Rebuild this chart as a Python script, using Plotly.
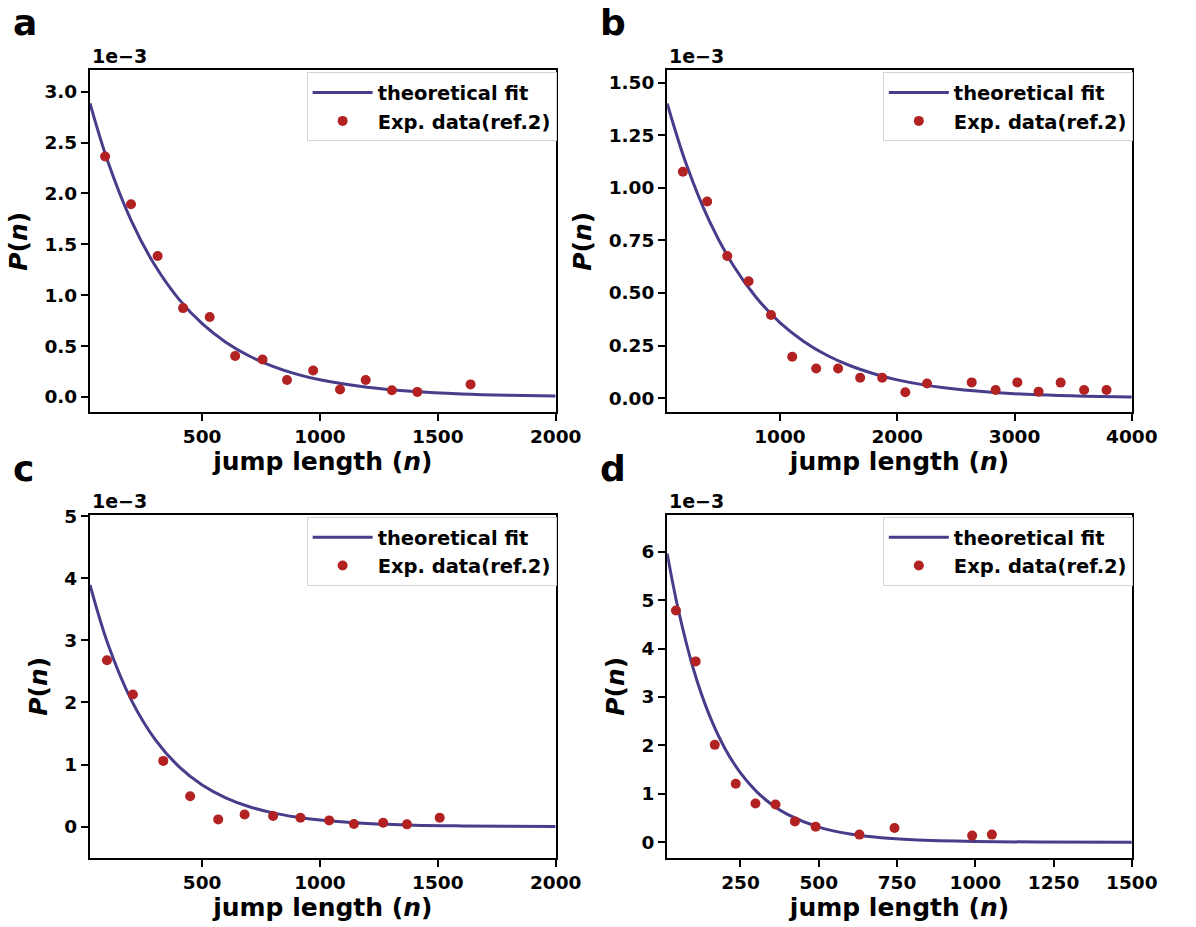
import plotly.graph_objects as go

# ---------------- data (P values in units of 1e-3) ----------------
# panel a
a_exp_n = [88, 198, 311, 419, 532, 640, 756, 860, 971, 1085, 1194, 1305, 1413, 1639]
a_exp_p = [2.364, 1.894, 1.385, 0.873, 0.785, 0.402, 0.367, 0.166, 0.260, 0.072, 0.166, 0.065, 0.049, 0.123]
a_fit_n = [24, 100, 200, 300, 400, 500, 600, 700, 800, 900, 1000, 1200, 1400, 1600, 1800, 2000]
a_fit_p = [2.886, 2.312, 1.728, 1.291, 0.964, 0.720, 0.538, 0.402, 0.300, 0.224, 0.168, 0.094, 0.052, 0.029, 0.016, 0.009]

# panel b
b_exp_n = [173, 380, 551, 733, 924, 1105, 1309, 1496, 1684, 1872, 2069, 2254, 2635, 2839, 3024, 3205, 3393, 3593, 3784]
b_exp_p = [1.076, 0.935, 0.676, 0.556, 0.395, 0.197, 0.141, 0.141, 0.097, 0.097, 0.028, 0.070, 0.075, 0.039, 0.075, 0.031, 0.074, 0.039, 0.039]
b_fit_n = [39, 200, 400, 600, 800, 1000, 1200, 1400, 1600, 1800, 2000, 2400, 2800, 3200, 3600, 4000]
b_fit_p = [1.401, 1.115, 0.840, 0.633, 0.477, 0.359, 0.271, 0.204, 0.154, 0.116, 0.087, 0.049, 0.028, 0.016, 0.009, 0.005]

# panel c
c_exp_n = [96, 206, 335, 449, 568, 680, 801, 917, 1039, 1144, 1268, 1369, 1508]
c_exp_p = [2.681, 2.128, 1.059, 0.489, 0.117, 0.197, 0.170, 0.144, 0.101, 0.043, 0.064, 0.037, 0.144]
c_fit_n = [24, 100, 200, 300, 400, 500, 600, 700, 800, 900, 1000, 1200, 1400, 1600, 1800, 2000]
c_fit_p = [3.894, 2.942, 2.034, 1.406, 0.972, 0.672, 0.465, 0.321, 0.222, 0.154, 0.106, 0.051, 0.024, 0.012, 0.006, 0.003]

# panel d
d_exp_n = [44, 107, 168, 235, 298, 362, 424, 490, 630, 742, 990, 1053]
d_exp_p = [4.786, 3.736, 2.011, 1.207, 0.798, 0.777, 0.430, 0.321, 0.157, 0.293, 0.136, 0.157]
d_fit_n = [16, 50, 100, 150, 200, 250, 300, 350, 400, 500, 600, 700, 800, 1000, 1200, 1500]
d_fit_p = [5.966, 4.849, 3.574, 2.635, 1.943, 1.432, 1.056, 0.778, 0.574, 0.312, 0.170, 0.092, 0.050, 0.015, 0.004, 0.001]

panel_letters = ["a", "b", "c", "d"]
fit_label = "theoretical fit"
exp_label = "Exp. data(ref.2)"
x_title = "jump length (<i>n</i>)"
y_title = "<i>P</i>(<i>n</i>)"
scale_label = "1e\u22123"

x_ranges = [[24, 2000], [39, 4000], [24, 2000], [16, 1500]]
y_ranges = [[-0.149, 3.21], [-0.066, 1.558], [-0.5, 5.02], [-0.32, 6.76]]
x_ticks = [[500, 1000, 1500, 2000], [1000, 2000, 3000, 4000], [500, 1000, 1500, 2000],
           [250, 500, 750, 1000, 1250, 1500]]
y_ticks = [[0, 0.5, 1.0, 1.5, 2.0, 2.5, 3.0], [0, 0.25, 0.5, 0.75, 1.0, 1.25, 1.5],
           [0, 1, 2, 3, 4, 5], [0, 1, 2, 3, 4, 5, 6]]
y_fmt = [".1f", ".2f", "d", "d"]

# ---------------- layout geometry ----------------
W, H = 1196, 927
x_doms = [[92 / W, 568 / W], [682 / W, 1157 / W], [92 / W, 568 / W], [682 / W, 1157 / W]]
y_doms = [[1 - 407 / H, 1 - 62 / H], [1 - 407 / H, 1 - 62 / H],
          [1 - 857 / H, 1 - 511 / H], [1 - 857 / H, 1 - 511 / H]]

LINE = "#483D8B"
DOT = "#B22222"
FONT = "DejaVu Sans"

fits = [(a_fit_n, a_fit_p), (b_fit_n, b_fit_p), (c_fit_n, c_fit_p), (d_fit_n, d_fit_p)]
exps = [(a_exp_n, a_exp_p), (b_exp_n, b_exp_p), (c_exp_n, c_exp_p), (d_exp_n, d_exp_p)]

fig = go.Figure()
layout = dict(
    width=W, height=H, margin=dict(l=0, r=0, t=0, b=0),
    paper_bgcolor="white", plot_bgcolor="white",
    font=dict(family=FONT, color="black", size=18, weight="bold"),
    annotations=[],
)

for i in range(4):
    sfx = "" if i == 0 else str(i + 1)
    leg = "legend" + sfx
    fig.add_trace(go.Scatter(
        x=fits[i][0], y=fits[i][1], mode="lines", name=fit_label,
        line=dict(color=LINE, width=3, shape="spline", smoothing=1.0),
        xaxis="x" + sfx, yaxis="y" + sfx, legend=leg, legendgroup="f" + str(i)))
    fig.add_trace(go.Scatter(
        x=exps[i][0], y=exps[i][1], mode="markers", name=exp_label,
        marker=dict(color=DOT, size=10),
        xaxis="x" + sfx, yaxis="y" + sfx, legend=leg, legendgroup="e" + str(i)))

    common = dict(showline=True, mirror=True, linecolor="black", linewidth=2.2,
                  ticks="outside", ticklen=7, tickwidth=1.7, tickcolor="black",
                  showgrid=False, zeroline=False,
                  tickfont=dict(family=FONT, size=18.5, color="black", weight="bold"))
    layout["xaxis" + sfx] = dict(
        common, domain=x_doms[i], range=x_ranges[i], tickvals=x_ticks[i],
        anchor="y" + sfx,
        title=dict(text=x_title, font=dict(family=FONT, size=25, weight="bold"), standoff=1))
    layout["yaxis" + sfx] = dict(
        common, domain=y_doms[i], range=y_ranges[i], tickvals=y_ticks[i],
        tickformat=y_fmt[i], anchor="x" + sfx,
        title=dict(text=y_title, font=dict(family=FONT, size=25, weight="bold"), standoff=10))
    layout[leg] = dict(
        x=x_doms[i][1] + 1 / W, y=y_doms[i][1] - 2 / H, xanchor="right", yanchor="top",
        xref="paper", yref="paper",
        bgcolor="rgba(255,255,255,0.85)", bordercolor="#d3d3d3", borderwidth=1,
        font=dict(family=FONT, size=19.5, color="black", weight="bold"),
        traceorder="grouped", tracegroupgap=0, itemwidth=60)
    layout["annotations"].append(dict(
        text=scale_label, xref="paper", yref="paper", x=x_doms[i][0], y=y_doms[i][1],
        xanchor="left", yanchor="bottom", yshift=1, showarrow=False,
        font=dict(family=FONT, size=19, color="black", weight="bold")))
    lx = 11 / W if i % 2 == 0 else 611 / W
    ly = 1 + 9 / H if i < 2 else 1 - 441 / H
    layout["annotations"].append(dict(
        text=panel_letters[i], xref="paper", yref="paper", x=lx, y=ly,
        xanchor="left", yanchor="top", showarrow=False,
        font=dict(family=FONT, size=36, color="black", weight="bold")))

fig.update_layout(**layout)
fig.write_html("out.html", config={"displayModeBar": False},
               post_script="document.body.style.margin='0px';document.body.style.overflow='hidden';")
